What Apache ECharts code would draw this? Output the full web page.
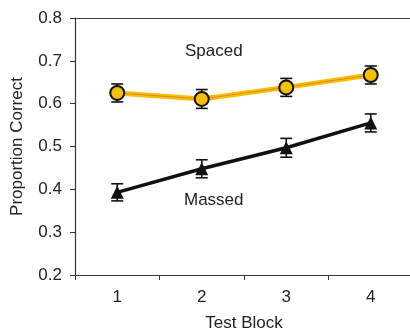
<!DOCTYPE html>
<html>
<head>
<meta charset="utf-8">
<script src="https://cdn.jsdelivr.net/npm/echarts@6/dist/echarts.min.js"></script>
<style>
  html, body { margin: 0; padding: 0; background: #fff; }
  #chart { width: 410px; height: 330px; }
</style>
</head>
<body>
<div id="chart"></div>
<script>
// test blocks
const blocks = ['1', '2', '3', '4'];
// proportion correct
const spaced = [0.625, 0.611, 0.638, 0.667];
const massed = [0.393, 0.448, 0.497, 0.555];
// standard error (half length of bar)
const spacedErr = [0.021, 0.022, 0.021, 0.021];
const massedErr = [0.020, 0.021, 0.022, 0.021];

const font = 'Liberation Sans, Arial, sans-serif';

function errData(vals, errs) {
  return vals.map((v, i) => [i, v - errs[i], v + errs[i]]);
}

function renderErr(params, api) {
  const x = api.value(0);
  const lo = api.coord([x, api.value(1)]);
  const hi = api.coord([x, api.value(2)]);
  const half = 6;
  const style = { stroke: '#111', lineWidth: 1.6 };
  return {
    type: 'group',
    children: [
      { type: 'line', shape: { x1: lo[0], y1: lo[1], x2: hi[0], y2: hi[1] }, style },
      { type: 'line', shape: { x1: lo[0] - half, y1: lo[1], x2: lo[0] + half, y2: lo[1] }, style },
      { type: 'line', shape: { x1: hi[0] - half, y1: hi[1], x2: hi[0] + half, y2: hi[1] }, style },
    ],
  };
}

const chart = echarts.init(document.getElementById('chart'));
chart.setOption({
  animation: false,
  textStyle: { fontFamily: font },
  grid: { left: 75, top: 18, right: -3, bottom: 55, outerBoundsMode: 'none' },
  xAxis: [
    {
      type: 'category',
      data: blocks,
      boundaryGap: true,
      name: 'Test Block',
      nameLocation: 'middle',
      nameGap: 40,
      nameTextStyle: { fontSize: 17, color: '#222', fontFamily: font },
      axisLine: { lineStyle: { color: '#333', width: 1.2 } },
      axisTick: { show: true, length: 5, lineStyle: { color: '#333' } },
      axisLabel: { fontSize: 17, color: '#222', margin: 14, fontFamily: font },
    },
    {
      type: 'category',
      data: blocks,
      position: 'top',
      axisLine: { lineStyle: { color: '#444', width: 1.2 } },
      axisTick: { show: false },
      axisLabel: { show: false },
    },
  ],
  yAxis: {
    type: 'value',
    min: 0.2,
    max: 0.8,
    interval: 0.1,
    name: 'Proportion Correct',
    nameLocation: 'middle',
    nameGap: 49,
    nameTextStyle: { fontSize: 17, color: '#222', fontFamily: font },
    axisLine: { show: true, lineStyle: { color: '#333', width: 1.2 } },
    axisTick: { show: true, length: 5, lineStyle: { color: '#333' } },
    splitLine: { show: false },
    axisLabel: {
      fontSize: 17,
      color: '#222',
      margin: 13,
      fontFamily: font,
      formatter: (v) => v.toFixed(1),
    },
  },
  graphic: [
    { type: 'text', left: 185, top: 43, style: { text: 'Spaced', font: '17px ' + font, fill: '#222' } },
    { type: 'text', left: 184, top: 192, style: { text: 'Massed', font: '17px ' + font, fill: '#222' } },
  ],
  series: [
    {
      type: 'custom',
      renderItem: renderErr,
      data: errData(spaced, spacedErr),
      z: 1,
    },
    {
      type: 'custom',
      renderItem: renderErr,
      data: errData(massed, massedErr),
      z: 1,
    },
    {
      name: 'Spaced',
      type: 'line',
      data: spaced,
      symbol: 'circle',
      symbolSize: 14,
      lineStyle: { color: '#f5c000', width: 5 },
      itemStyle: { color: '#f5c000', borderColor: '#111', borderWidth: 2 },
      z: 2,
    },
    {
      name: 'Spaced-edge',
      type: 'line',
      data: spaced,
      symbol: 'none',
      lineStyle: { color: '#e0504a', width: 0.8, opacity: 0.7 },
      z: 2,
    },
    {
      name: 'Massed',
      type: 'line',
      data: massed,
      symbol: 'triangle',
      symbolSize: 13,
      lineStyle: { color: '#111', width: 3.5 },
      itemStyle: { color: '#111' },
      z: 3,
    },
  ],
});
</script>
</body>
</html>
